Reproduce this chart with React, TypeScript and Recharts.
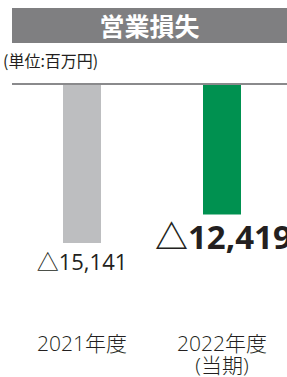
import { BarChart, Bar, XAxis, YAxis, Cell, LabelList, ReferenceLine } from 'recharts';

const years = ['2021年度', '2022年度'];
const subLabels = ['', '(当期)'];
const operatingLoss = [-15141, -12419];
const barColors = ['#bdbec0', '#009150'];

const data = years.map((year, i) => ({ year, value: operatingLoss[i] }));

const font = '"Open Sans", "Noto Sans CJK JP", sans-serif';
const jpFont = '"Noto Sans CJK JP", sans-serif';

const fmt = (v: number) => '△' + Math.abs(v).toLocaleString('en-US');

function ValueLabel(props: any) {
  const { x, y, width, height, value, index } = props;
  const bottom = Math.max(y, y + height);
  if (index === 1) {
    return (
      <text x={x - 48} y={bottom + 35} textAnchor="start" fontFamily={font} fontSize={33} fontWeight={700} fill="#231f20">
        {fmt(value)}
      </text>
    );
  }
  return (
    <text x={x + width / 2} y={bottom + 27} textAnchor="middle" fontFamily={font} fontSize={22} fontWeight={400} fill="#231f20">
      {fmt(value)}
    </text>
  );
}

function YearTick(props: any) {
  const { x, y, payload, index } = props;
  return (
    <g>
      <text x={x} y={y + 49} textAnchor="middle" fontFamily={font} fontSize={21} fontWeight={300} fill="#231f20">
        {payload.value}
      </text>
      {subLabels[index] && (
        <text x={x} y={y + 71} textAnchor="middle" fontFamily={font} fontSize={21} fontWeight={300} fill="#231f20">
          {subLabels[index]}
        </text>
      )}
    </g>
  );
}

export default function App() {
  return (
    <div style={{ position: 'fixed', left: 0, top: 0, width: 287, height: 377, overflow: 'hidden', background: '#fff' }}>
      <div
        style={{
          position: 'absolute',
          left: 12,
          top: 8,
          width: 275,
          height: 35,
          background: '#7f7f81',
          color: '#fff',
          fontFamily: jpFont,
          fontWeight: 700,
          fontSize: 25,
          lineHeight: '35px',
          textAlign: 'center',
        }}
      >
        営業損失
      </div>
      <div style={{ position: 'absolute', left: 3, top: 50, fontFamily: jpFont, fontSize: 16, lineHeight: '20px', color: '#231f20' }}>
        (単位:百万円)
      </div>
      <BarChart width={292} height={377} data={data} margin={{ top: 84, right: 0, bottom: 53, left: 12 }}>
        <XAxis dataKey="year" height={30} axisLine={false} tickLine={false} tick={<YearTick />} interval={0} />
        <YAxis hide domain={[-20000, 0]} />
        <ReferenceLine y={0} stroke="#8a8a8c" strokeWidth={2} />
        <Bar dataKey="value" barSize={38} isAnimationActive={false}>
          {data.map((d, i) => (
            <Cell key={d.year} fill={barColors[i]} />
          ))}
          <LabelList dataKey="value" content={<ValueLabel />} />
        </Bar>
      </BarChart>
    </div>
  );
}
